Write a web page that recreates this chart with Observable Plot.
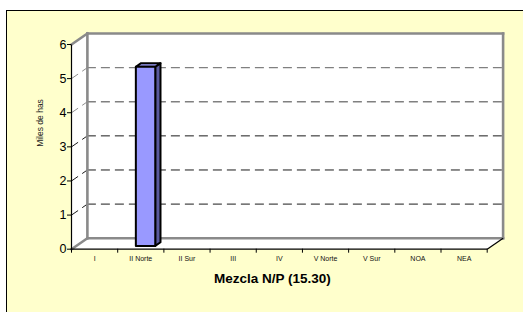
<!DOCTYPE html>
<html>
<head>
<meta charset="utf-8">
<script src="https://cdn.jsdelivr.net/npm/d3@7"></script>
<script src="https://cdn.jsdelivr.net/npm/@observablehq/plot@0.6"></script>
<style>
  html, body { margin: 0; padding: 0; background: #ffffff; width: 523px; height: 312px; overflow: hidden; }
  #frame { position: absolute; left: 6px; top: 10px; width: 517px; height: 302px; border-left: 1px solid #000; border-top: 1px solid #000; background: #FFFFCC; box-sizing: border-box; }
  #chart { position: absolute; left: 0; top: 0; width: 523px; height: 312px; }
</style>
</head>
<body>
<div id="frame"></div>
<div id="chart"></div>
<script>
// ---- data ----
const categories = ["I", "II Norte", "II Sur", "III", "IV", "V Norte", "V Sur", "NOA", "NEA"];
const values = [0, 5.25, 0, 0, 0, 0, 0, 0, 0];
const yTicks = [0, 1, 2, 3, 4, 5, 6];
const gridValues = [1, 2, 3, 4, 5];
const yLabel = "Miles de has";
const title = "Mezcla N/P (15.30)";

// ---- 3D geometry (in data units) ----
const N = categories.length;
const YMAX = 6;
const DX = 0.344, DY = 0.322;
const BL = 0.29, BR = 0.71;
const D0 = 0.30, D1 = 0.63;

const wall = [[0,0],[0,YMAX],[DX,YMAX+DY],[N+DX,YMAX+DY],[N+DX,DY],[N,0],[0,0]]
  .map(([x,y]) => ({x, y}));

const faces = [];
values.forEach((v, i) => {
  if (!(v > 0)) return;
  const xl0 = i + BL + D0*DX, xr0 = i + BR + D0*DX, xl1 = i + BL + D1*DX, xr1 = i + BR + D1*DX;
  const yb0 = D0*DY, yt0 = v + D0*DY, yb1 = D1*DY, yt1 = v + D1*DY;
  const add = (face, pts) => pts.forEach(([x,y]) => faces.push({face: face + i, kind: face, x, y}));
  add("side", [[xr0,yb0],[xr1,yb1],[xr1,yt1],[xr0,yt0],[xr0,yb0]]);
  add("top", [[xl0,yt0],[xr0,yt0],[xr1,yt1],[xl1,yt1],[xl0,yt0]]);
  add("front", [[xl0,yb0],[xr0,yb0],[xr0,yt0],[xl0,yt0],[xl0,yb0]]);
});
const faceFill = {front: "#9999FF", top: "#A0A0FF", side: "#5A5A9E"};

const gridColor = v => v >= 4 ? "#808080" : "#000000";
const gridWidth = v => v >= 4 ? 1.4 : 0.9;

const wallEdges = [
  {x1: DX, y1: DY, x2: DX, y2: YMAX+DY},
  {x1: DX, y1: YMAX+DY, x2: N+DX, y2: YMAX+DY},
  {x1: N+DX, y1: YMAX+DY, x2: N+DX, y2: DY},
  {x1: DX, y1: DY, x2: N+DX, y2: DY},
  {x1: 0, y1: YMAX, x2: DX, y2: YMAX+DY},
  {x1: 0, y1: 0, x2: DX, y2: DY}
];
const frontEdges = [
  {x1: 0, y1: 0, x2: 0, y2: YMAX},
  {x1: 0, y1: 0, x2: N, y2: 0},
  {x1: N, y1: 0, x2: N+DX, y2: DY}
];

const font = "Arial, 'Liberation Sans', sans-serif";

const plot = Plot.plot({
  width: 523,
  height: 312,
  marginLeft: 71,
  marginRight: 36.3,
  marginTop: 44,
  marginBottom: 63.3,
  x: {domain: [0, N]},
  y: {domain: [0, YMAX]},
  style: {background: "transparent", fontFamily: font, overflow: "visible", color: "#000"},
  marks: [
    Plot.line(wall, {x: "x", y: "y", fill: "#ffffff", stroke: "none"}),
    Plot.ruleY(gridValues, {y: v => v + DY, x1: DX, x2: N + DX, stroke: gridColor, strokeWidth: gridWidth, strokeDasharray: "9,5"}),
    Plot.link(gridValues, {x1: 0, y1: v => v, x2: DX, y2: v => v + DY, stroke: gridColor, strokeWidth: 0.9, strokeDasharray: "8,5"}),
    Plot.link(wallEdges, {x1: "x1", y1: "y1", x2: "x2", y2: "y2", stroke: "#8a8a8a", strokeWidth: 2.6, strokeLinecap: "square"}),
    Plot.link(frontEdges, {x1: "x1", y1: "y1", x2: "x2", y2: "y2", stroke: "#000", strokeWidth: 1.2}),
    Plot.line(faces, {x: "x", y: "y", z: "face", fill: d => faceFill[d.kind], stroke: "#000", strokeWidth: 2, strokeLinejoin: "round"}),
    Plot.axisY({ticks: yTicks, tickSize: 4, tickPadding: 1, fontSize: 12.5, tickFormat: d => String(d), label: null, stroke: "#000", fill: "#000"}),
    Plot.axisX({ticks: d3.range(N + 1), tickSize: 4, tickFormat: () => "", label: null, stroke: "#000"}),
    Plot.axisX({ticks: d3.range(N).map(i => i + 0.5), tickSize: 0, tickPadding: 6.5, tickFormat: d => categories[Math.floor(d)], fontSize: 7, label: null, fill: "#111"}),
    Plot.text([yLabel], {text: d => d, frameAnchor: "left", dx: -31, rotate: -90, fontSize: 8.5, fill: "#222"}),
    Plot.text([title], {text: d => d, frameAnchor: "bottom", dx: -6.9, dy: 34, fontSize: 13.5, fontWeight: "bold", fill: "#000"})
  ]
});
document.getElementById("chart").appendChild(plot);
</script>
</body>
</html>
